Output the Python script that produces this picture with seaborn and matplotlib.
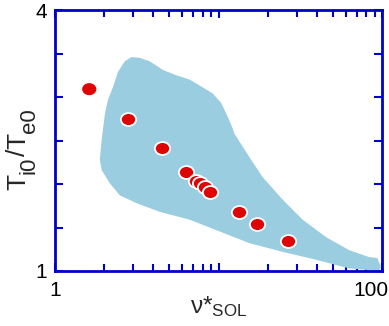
import numpy as np
import pandas as pd
import seaborn as sns
import matplotlib
matplotlib.use("Agg")
import matplotlib.pyplot as plt
from matplotlib.path import Path
from matplotlib.transforms import Affine2D, ScaledTranslation
from matplotlib.ticker import FixedLocator, NullFormatter

# measured points (nu*_SOL, Ti0/Te0)
nu_pts = [1.62, 2.79, 4.49, 6.29, 7.31, 7.73, 8.22, 8.85, 13.4, 17.1, 26.7]
ratio_pts = [3.09, 2.75, 2.41, 2.14, 2.04, 2.01, 1.96, 1.91, 1.675, 1.545, 1.34]
outlined = [False] + [True] * 10

# outline of the shaded region (nu*_SOL, Ti0/Te0)
region_nu = [2.02, 2.11, 2.27, 2.43, 2.67, 2.94, 3.30, 3.80, 4.58, 5.52, 6.66,
             8.02, 9.23, 10.4, 11.4, 12.2, 12.5, 15.45, 18.6, 24.7, 32.7, 45.4,
             62.9, 83.3, 93.6, 98.2, 96.0, 62.9, 39.4, 24.7, 15.45, 9.68, 6.66,
             4.37, 3.15, 2.49, 2.16, 1.93, 1.88, 1.93]
region_ratio = [2.81, 2.97, 3.12, 3.29, 3.41, 3.46, 3.45, 3.41, 3.31, 3.25, 3.20,
                3.11, 3.04, 2.93, 2.77, 2.64, 2.58, 2.31, 2.08, 1.82, 1.59, 1.39,
                1.24, 1.16, 1.15, 1.05, 1.0, 1.03, 1.13, 1.22, 1.32, 1.47, 1.59,
                1.68, 1.78, 1.87, 2.01, 2.16, 2.28, 2.51]

x_ticks = [1, 10, 100]
x_labels = ["1", "", "100"]
y_ticks = [1, 1.5, 2, 2.5, 3, 3.5, 4]
y_labels = ["1", "", "", "", "", "", "4"]

# y label pieces: (text, fontsize, subscript)
ylabel_parts = [("T", 19, False), ("i0", 16, True), ("/", 19, False),
                ("T", 19, False), ("e0", 16, True)]

frame = "#0000CC"
fill = "#9ACDE0"
red = "#DD0505"

sns.set_style("white")
plt.rcParams["font.family"] = ["Liberation Sans", "DejaVu Sans"]
plt.rcParams["mathtext.fontset"] = "custom"
plt.rcParams["mathtext.rm"] = "Liberation Sans"
plt.rcParams["mathtext.it"] = "Liberation Sans"

df = pd.DataFrame({"nu": nu_pts, "ratio": ratio_pts, "outlined": outlined})

fig = plt.figure(figsize=(3.89, 3.26), dpi=100)
ax = fig.add_axes([55 / 389, 1 - 271 / 326, 327 / 389, 261 / 326])

ax.fill(region_nu, region_ratio, color=fill, lw=0, zorder=1)

ellipse = Path.unit_circle().transformed(Affine2D().scale(1.18, 1.0))
sns.scatterplot(data=df[~df.outlined], x="nu", y="ratio", ax=ax, marker=ellipse,
                s=105, color=red, edgecolor="none", zorder=3)
sns.scatterplot(data=df[df.outlined], x="nu", y="ratio", ax=ax, marker=ellipse,
                s=120, color=red, edgecolor="white", linewidth=1.3, zorder=3)

ax.set_xscale("log")
ax.set_xlim(1, 100)
ax.set_ylim(1, 4)

ax.xaxis.set_major_locator(FixedLocator(x_ticks))
ax.set_xticklabels(x_labels)
minors = [m * 10 ** d for d in range(2) for m in range(2, 10)]
ax.xaxis.set_minor_locator(FixedLocator(minors))
ax.xaxis.set_minor_formatter(NullFormatter())
ax.set_yticks(y_ticks)
ax.set_yticklabels(y_labels)

ax.tick_params(which="both", direction="in", top=True, right=True,
               bottom=True, left=True, color=frame, width=1.5,
               labelsize=15, labelcolor="black")
ax.tick_params(which="major", length=6)
ax.tick_params(axis="x", which="major", pad=7)
ax.tick_params(axis="y", which="major", pad=6)
ax.tick_params(which="minor", length=5)
for s in ax.spines.values():
    s.set_color(frame)
    s.set_linewidth(2)
    s.set_visible(True)

# shift the "100" label left so it stays in the figure
lab = ax.get_xticklabels()[-1]
lab.set_transform(lab.get_transform() + ScaledTranslation(-11 / 100, 0, fig.dpi_scale_trans))

ax.set_xlabel(r"$\nu$*$_{\mathregular{SOL}}$", fontsize=17.5)
ax.xaxis.set_label_coords(0.5, -0.09)
ax.set_ylabel("")

# y label built from rotated pieces so the subscripts keep near full size
# (rotated 90 deg: the glyphs rise towards -x from the baseline)
renderer = fig.canvas.get_renderer()
x_base = 25 / 389
y_pos = 1 - 190 / 326
for txt, size, sub in ylabel_parts:
    dx = 10 / 389 if sub else 0
    t = fig.text(x_base + dx, y_pos, txt, fontsize=size, rotation=90,
                 ha="left", va="baseline", rotation_mode="anchor")
    bb = t.get_window_extent(renderer)
    y_pos += bb.height / fig.bbox.height

fig.savefig("out.png", dpi=100)
